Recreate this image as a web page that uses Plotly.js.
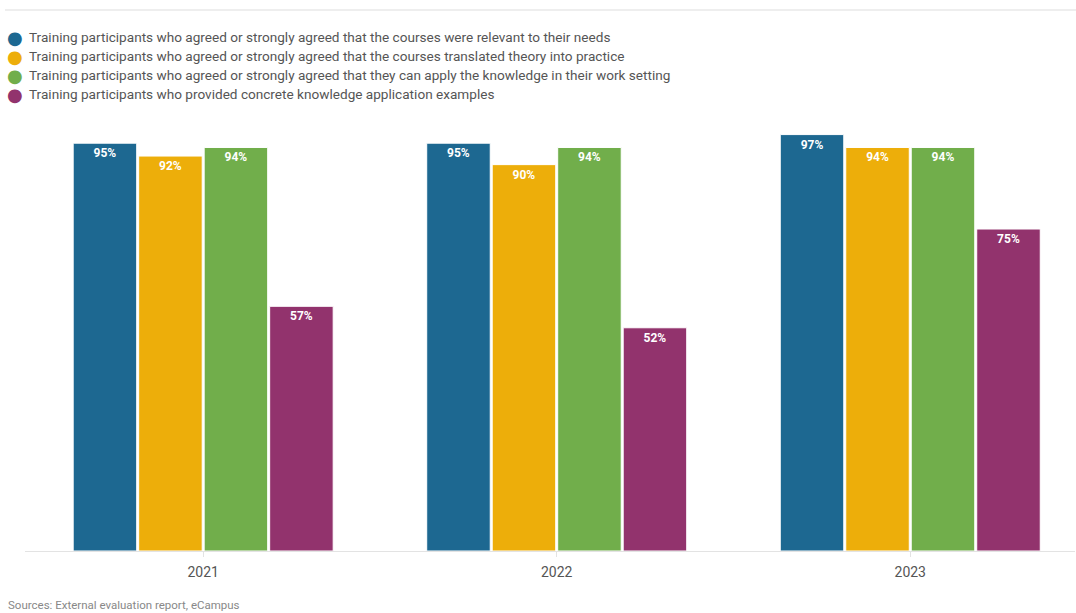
<!DOCTYPE html>
<html>
<head>
<meta charset="utf-8">
<script src="https://cdn.plot.ly/plotly-3.0.1.min.js"></script>
<style>html,body{margin:0;padding:0;background:#fff;}#chart{width:1076px;height:613px;}</style>
</head>
<body>
<div id="chart"></div>
<script>
const years = ['2021', '2022', '2023'];
const seriesNames = [
  'Training participants who agreed or strongly agreed that the courses were relevant to their needs',
  'Training participants who agreed or strongly agreed that the courses translated theory into practice',
  'Training participants who agreed or strongly agreed that they can apply the knowledge in their work setting',
  'Training participants who provided concrete knowledge application examples'
];
const relevant = [95, 95, 97];
const theoryPractice = [92, 90, 94];
const applyKnowledge = [94, 94, 94];
const examples = [57, 52, 75];
const colors = ['#1d6891', '#edae0a', '#71ae4b', '#92336d'];
const sourceText = 'Sources: External evaluation report, eCampus';

const values = [relevant, theoryPractice, applyKnowledge, examples];
const traces = values.map((v, i) => ({
  type: 'bar', x: years, y: v, name: seriesNames[i], showlegend: false,
  marker: {color: colors[i], line: {color: '#ffffff', width: 1}},
  text: v.map(d => d + '%'), textposition: 'inside', insidetextanchor: 'end',
  textangle: 0,
  textfont: {family: 'Roboto', size: 12, color: '#ffffff', weight: 'bold'},
  hoverinfo: 'x+y+name'
}));

// Legend built as annotations (pixel -> paper conversion)
const L = 25, W = 1050, B = 551, H = 428;
const px = p => (p - L) / W;
const py = p => (B - p) / H;
const legendRows = [37, 56, 75, 94];
const annotations = [];
seriesNames.forEach((n, i) => {
  annotations.push({text: '●', xref: 'paper', yref: 'paper', x: px(15), y: py(legendRows[i] + 0.5),
    xanchor: 'center', yanchor: 'middle', showarrow: false,
    font: {family: 'DejaVu Sans', size: 18, color: colors[i]}});
  annotations.push({text: n, xref: 'paper', yref: 'paper', x: px(27), y: py(legendRows[i]),
    xanchor: 'left', yanchor: 'middle', showarrow: false,
    font: {family: 'Roboto', size: 13.6, color: '#555555'}});
});
annotations.push({text: sourceText, xref: 'paper', yref: 'paper', x: px(6), y: py(605),
  xanchor: 'left', yanchor: 'middle', showarrow: false,
  font: {family: 'Roboto', size: 11.5, color: '#888888'}});

const layout = {
  width: 1076, height: 613,
  margin: {l: L, r: 1, t: 123, b: 62},
  paper_bgcolor: '#ffffff', plot_bgcolor: '#ffffff',
  font: {family: 'Roboto', color: '#555555'},
  barmode: 'group', bargap: 0.259, bargroupgap: 0.03,
  showlegend: false,
  xaxis: {type: 'category', range: [-0.504, 2.466], showgrid: false, zeroline: false,
    showline: true, linecolor: '#e3e3e3', linewidth: 1,
    ticks: 'outside', ticklen: 5, tickcolor: '#e3e3e3', ticklabelstandoff: 3,
    tickfont: {family: 'Roboto', size: 14, color: '#555555'}},
  yaxis: {range: [0, 99.7], showgrid: false, zeroline: false, showline: false,
    showticklabels: false, ticks: ''},
  shapes: [{type: 'line', xref: 'paper', yref: 'paper', x0: px(5), x1: 1.001,
    y0: py(10), y1: py(10), line: {color: '#dddddd', width: 1}}],
  annotations: annotations
};

Plotly.newPlot('chart', traces, layout, {displayModeBar: false, staticPlot: true});
</script>
</body>
</html>
